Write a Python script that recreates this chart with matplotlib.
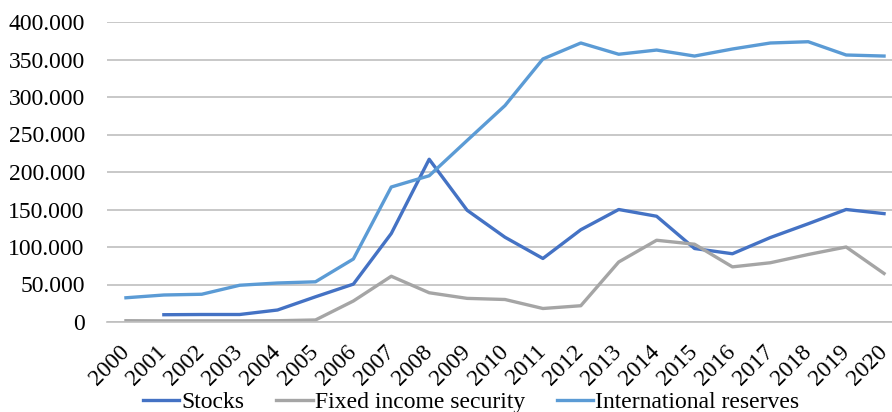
import matplotlib
matplotlib.use("Agg")
import matplotlib.pyplot as plt
from matplotlib.ticker import FuncFormatter
import numpy as np

years = [str(y) for y in range(2000, 2021)]
stocks = [None, 9700, 10000, 10000, 16000, 33600, 50500, 118000, 217000, 149000,
          113000, 84700, 123000, 150000, 141000, 98000, 91000, 112600, 131000, 150000, 144500]
fixed_income = [1700, 1500, 1500, 1500, 1700, 2700, 28000, 61000, 39000, 31500,
                30000, 18000, 21700, 80000, 109000, 103700, 73500, 79000, 90000, 100000, 64700]
reserves = [32300, 36000, 37000, 49000, 52000, 53600, 84000, 180000, 195000, 242000,
            288600, 350700, 372000, 357000, 362600, 354600, 364000, 372000, 373700, 356000, 354600]

plt.rcParams['font.family'] = ['Liberation Serif', 'DejaVu Serif']

fig = plt.figure(figsize=(8.92, 4.12), dpi=100)
ax = fig.add_axes([107/892, 1-322/412, (892-107)/892, (322-22)/412])

x = np.arange(len(years))
s = np.array([np.nan if v is None else v for v in stocks], dtype=float)
ax.plot(x, s, color='#4472C4', lw=2.4, label='Stocks', solid_joinstyle='round')
ax.plot(x, fixed_income, color='#A5A5A5', lw=2.4, label='Fixed income security', solid_joinstyle='round')
ax.plot(x, reserves, color='#5B9BD5', lw=2.4, label='International reserves', solid_joinstyle='round')

ax.set_ylim(0, 400000)
ax.set_yticks(np.arange(0, 400001, 50000))
ax.yaxis.set_major_formatter(FuncFormatter(lambda v, p: '0' if v == 0 else f'{int(v):,}'.replace(',', '.')))
ax.set_xlim(-0.5, 20.21)
ax.set_xticks(x)
ax.set_xticklabels(years, rotation=45, ha='right', va='center', rotation_mode='anchor')
ax.tick_params(axis='both', length=0, labelsize=17)
ax.tick_params(axis='y', pad=16)
ax.tick_params(axis='x', pad=19)
ax.grid(axis='y', color='#BFBFBF', lw=1.2)
ax.set_axisbelow(True)
for sp in ['top', 'right', 'left']:
    ax.spines[sp].set_visible(False)
ax.spines['bottom'].set_color('#BFBFBF')
ax.spines['bottom'].set_linewidth(1.2)

fig.legend(loc='center', bbox_to_anchor=(0.528, 1-402/412), ncol=3, frameon=False,
           fontsize=17, handlelength=1.55, handletextpad=0.08, columnspacing=1.35,
           borderaxespad=0, borderpad=0)

fig.savefig('out.png', dpi=100)
